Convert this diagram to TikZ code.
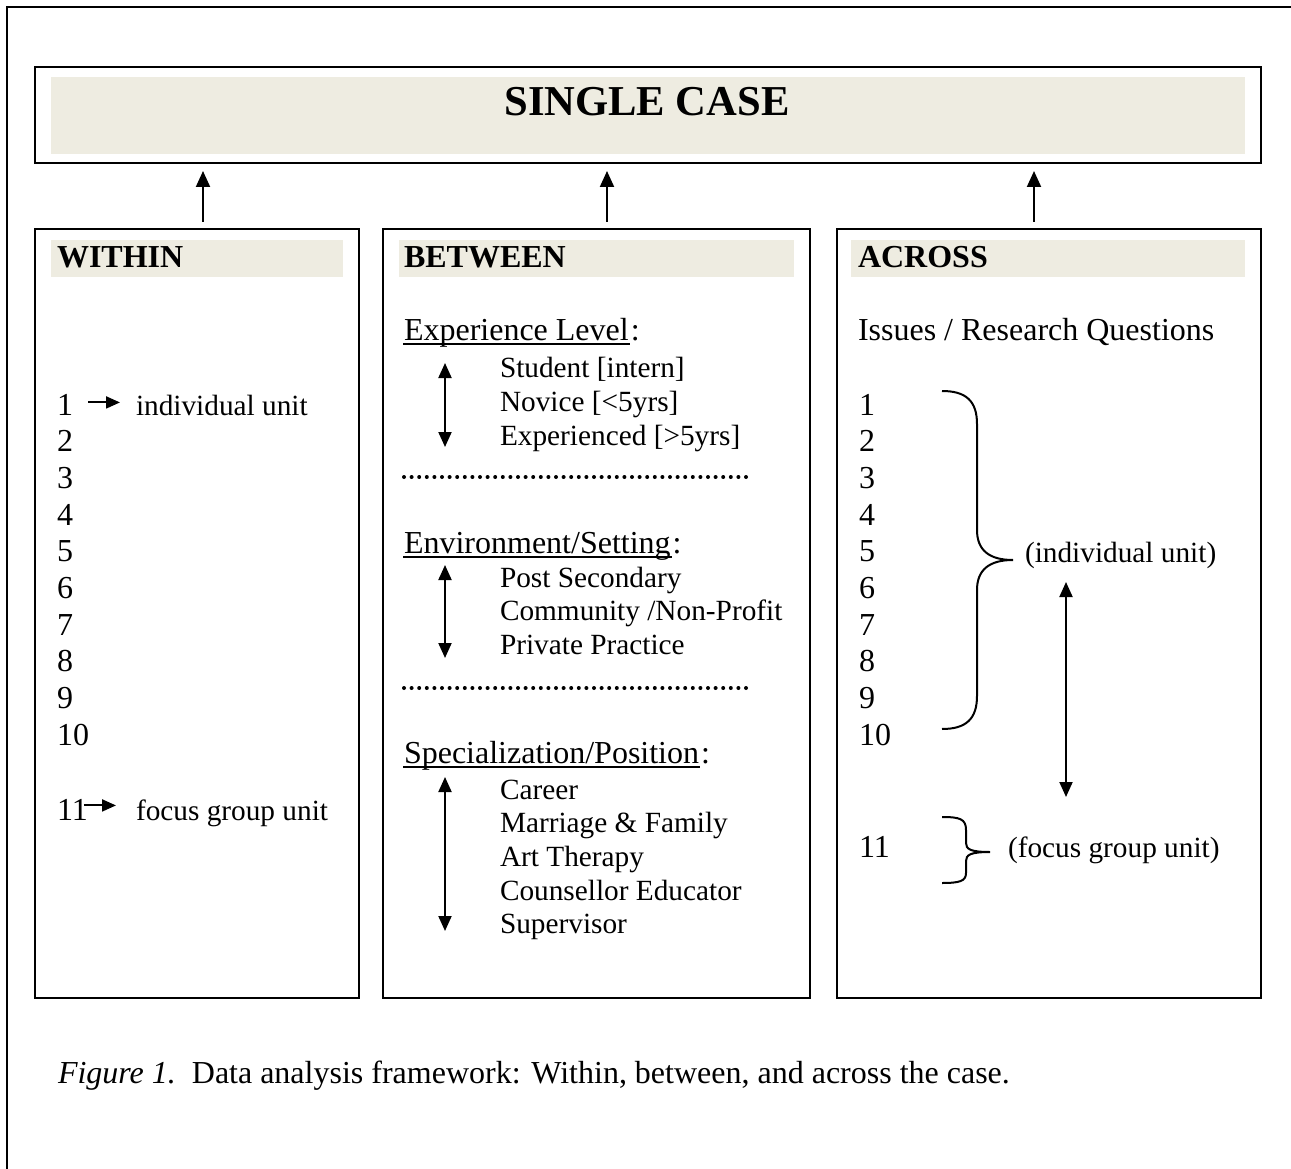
\documentclass[tikz,border=0pt]{standalone}
\usepackage{fontspec}
\setmainfont{Liberation Serif}
\usepackage{tikz}
\usetikzlibrary{arrows.meta}
\definecolor{shade}{HTML}{EEECE1}

\begin{document}
\begin{tikzpicture}[x=1pt, y=-1pt, line width=2pt,
        every node/.append style={inner sep=0pt, font=\fontsize{32}{38}\selectfont}]
      \tikzstyle{boxframe} = [draw, rectangle, anchor=north west]
      \tikzstyle{headbar} = [fill=shade, rectangle, anchor=north west, minimum height=37pt]
      \tikzstyle{entry} = [anchor=base west]
      \tikzstyle{subentry} = [anchor=base west, font=\fontsize{29.3}{34}\selectfont]
      \tikzstyle{headtext} = [anchor=base west, font=\fontsize{32}{38}\selectfont\bfseries]
      \tikzstyle{uparrow} = [-{Triangle[length=16pt,width=14pt]}]
      \tikzstyle{twoway} = [{Triangle[length=15pt,width=13pt]}-{Triangle[length=15pt,width=13pt]}]
      \tikzstyle{pointer} = [-{Triangle[length=14pt,width=12pt]}]
      \tikzstyle{dotrow} = [line width=4pt, line cap=round, dash pattern=on 0pt off 7.6pt]
      \tikzstyle{uline} = [line width=1.5pt]
      \useasboundingbox (0,0) rectangle (1291,1169);
      % page frame
      \draw (7,1169) -- (7,7) -- (1291,7);
      % single case
      \node (case) [boxframe, minimum width=1226pt, minimum height=96pt] at (34,66) {};
      \node (casebar) [headbar, minimum width=1194pt, minimum height=77pt] at (50,76) {};
      \node (casetitle) [anchor=base, font=\fontsize{42.6}{50}\selectfont\bfseries] at (647,116) {SINGLE CASE};
      % three boxes
      \node (within) [boxframe, minimum width=324pt, minimum height=769pt] at (34,228) {};
      \node (between) [boxframe, minimum width=427pt, minimum height=769pt] at (382,228) {};
      \node (across) [boxframe, minimum width=424pt, minimum height=769pt] at (836,228) {};
      \node (withinbar) [headbar, minimum width=292pt] at (50,239) {};
      \node (betweenbar) [headbar, minimum width=395pt] at (398,239) {};
      \node (acrossbar) [headbar, minimum width=394pt] at (850,239) {};
      \node (withinhead) [headtext] at (56,268) {WITHIN};
      \node (betweenhead) [headtext] at (403,268) {BETWEEN};
      \node (acrosshead) [headtext] at (857,268) {ACROSS};
      \draw[uparrow, shorten <=6pt, shorten >=7pt] ([xshift=6pt]within.north) -- ([xshift=6pt]within.north |- case.south);
      \draw[uparrow, shorten <=6pt, shorten >=7pt] ([xshift=10.5pt]between.north) -- ([xshift=10.5pt]between.north |- case.south);
      \draw[uparrow, shorten <=6pt, shorten >=7pt] ([xshift=-15pt]across.north) -- ([xshift=-15pt]across.north |- case.south);
      % within
      \foreach \n in {1,...,10}
        \node (w\n) [entry] at (56,378.33+36.67*\n) {\n};
      \node (w11) [entry] at (56,820) {11};
      \node (wind) [subentry] at (135,415) {individual unit};
      \node (wfocus) [subentry] at (135,820) {focus group unit};
      \draw[pointer, shorten <=14pt, shorten >=15pt] ([yshift=2pt]w1.east) -- ([yshift=2pt]w1.east -| wind.west);
      \draw[pointer, shorten >=14pt] ([shift={(-5pt,4pt)}]w11.east) -- ([shift={(-5pt,4pt)}]w11.east -| wfocus.west);
      % between
      \node (explevel) [entry] at (403,340) {Experience Level};
      \node (expcolon) [entry] at (explevel.base east) {:};
      \draw[uline] ([yshift=-4pt]explevel.base west) -- ([yshift=-4pt]explevel.base east);
      \node (student) [subentry] at (499,377) {Student [intern]};
      \node (novice) [subentry] at (499,411) {Novice [<5yrs]};
      \node (experienced) [subentry] at (499,445) {Experienced [>5yrs]};
      \coordinate (exptop) at (445,363);
      \coordinate (expbottom) at (445,447);
      \draw[twoway] (exptop) -- (expbottom);
      \draw[dotrow] (404,477) -- (752,477);
      \node (environ) [entry] at (403,553) {Environment/Setting};
      \node (envcolon) [entry] at (environ.base east) {:};
      \draw[uline] ([yshift=-4pt]environ.base west) -- ([yshift=-4pt]environ.base east);
      \node (postsec) [subentry] at (499,587) {Post Secondary};
      \node (community) [subentry] at (499,620) {Community /Non-Profit};
      \node (private) [subentry] at (499,654) {Private Practice};
      \coordinate (envtop) at (445,565);
      \coordinate (envbottom) at (445,658);
      \draw[twoway] (envtop) -- (envbottom);
      \draw[dotrow] (404,688) -- (752,688);
      \node (special) [entry] at (403,763) {Specialization/Position};
      \node (spcolon) [entry] at (special.base east) {:};
      \draw[uline] ([yshift=-4pt]special.base west) -- ([yshift=-4pt]special.base east);
      \node (career) [subentry] at (499,799) {Career};
      \node (marriage) [subentry] at (499,832) {Marriage \& Family};
      \node (arttherapy) [subentry] at (499,866) {Art Therapy};
      \node (educator) [subentry] at (499,900) {Counsellor Educator};
      \node (supervisor) [subentry] at (499,933) {Supervisor};
      \coordinate (sptop) at (445,777);
      \coordinate (spbottom) at (445,931);
      \draw[twoway] (sptop) -- (spbottom);
      % across
      \node (issues) [entry] at (857,340) {Issues / Research Questions};
      \foreach \n in {1,...,10}
        \node (a\n) [entry] at (858,378.33+36.67*\n) {\n};
      \node (a11) [entry] at (858,857) {11};
      \node (aind) [subentry] at (1024,562) {(individual unit)};
      \node (afocus) [subentry] at (1007,857) {(focus group unit)};
      \draw (942,391) .. controls (966,391) and (977,401) .. (977,424) -- (977,530)
        .. controls (977,550) and (989,560) .. (1013,560)
        .. controls (989,560) and (977,570) .. (977,590) -- (977,696)
        .. controls (977,719) and (966,729) .. (942,729);
      \draw (942,817) .. controls (960,817) and (966,819) .. (966,830) -- (966,843)
        .. controls (966,849) and (970,852) .. (990,852)
        .. controls (970,852) and (966,855) .. (966,861) -- (966,873)
        .. controls (966,881) and (960,883) .. (942,883);
      \coordinate (unittop) at (1066,582);
      \coordinate (unitbottom) at (1066,797);
      \draw[twoway] (unittop) -- (unitbottom);
      % caption
      \node (caption) [entry] at (57,1083) {\textit{Figure 1.}\ \ Data analysis framework: Within, between, and across the case.};
    \end{tikzpicture}
\end{document}
